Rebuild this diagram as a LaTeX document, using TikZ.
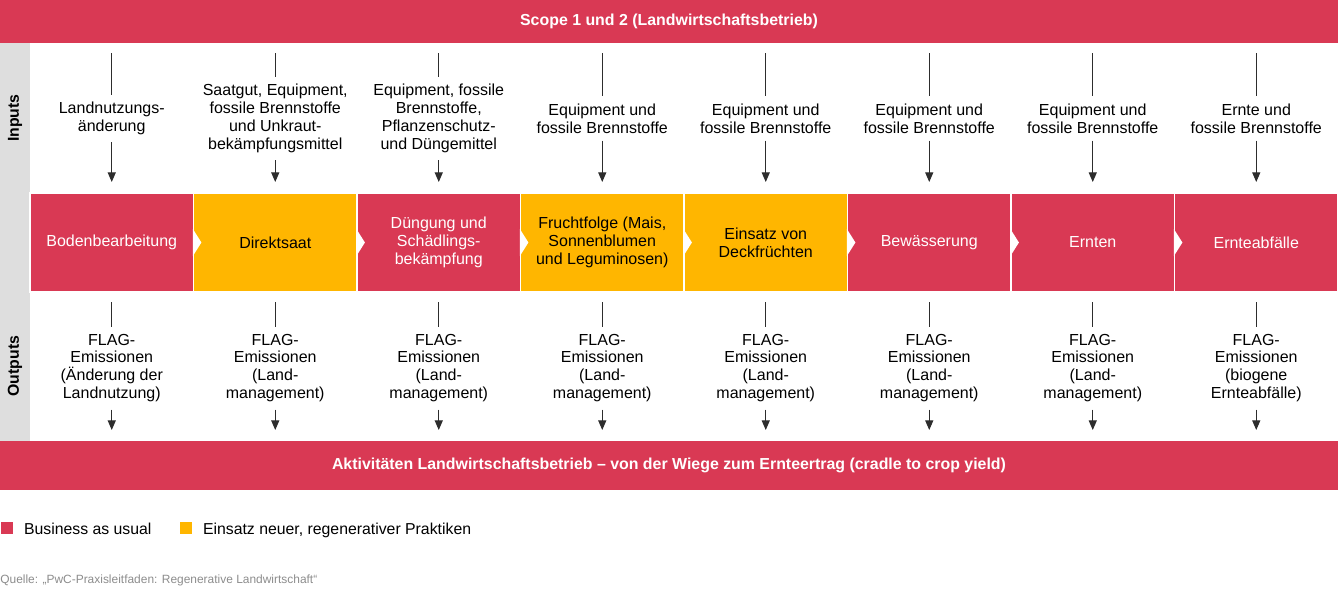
\documentclass[tikz,border=0pt]{standalone}
\usepackage{fontspec}
\setmainfont{Liberation Sans}
\usetikzlibrary{arrows.meta, positioning}
\definecolor{cred}{HTML}{D93954}
\definecolor{corange}{HTML}{FFB600}
\definecolor{cside}{HTML}{DEDEDE}
\definecolor{cline}{HTML}{2D2D2D}
\definecolor{cnote}{HTML}{8C8C8C}
\tikzset{
  every picture/.style={x=0.02cm, y=-0.02cm, font=\fontsize{9.1}{10.2}\selectfont},
  bar/.style={fill=cred, text=white, font=\fontsize{9.05}{10.2}\selectfont\bfseries, minimum width=26.76cm, inner sep=0pt},
  stage/.style={fill=#1, draw=white, line width=0.7pt, minimum width=3.27cm, minimum height=1.98cm, align=center, inner sep=2pt},
  stage/.default=cred,
  flow/.style={align=center, inner xsep=0pt, inner ysep=4pt},
  feed/.style={draw=cline, line width=0.6pt},
  arrow/.style={feed, -{Triangle[length=5.5pt, width=4.6pt]}},
  side/.style={font=\fontsize{9}{10.2}\selectfont\bfseries, rotate=90},
  key/.style={minimum size=0.24cm, inner sep=0pt},
  legend/.style={anchor=west, inner sep=0pt, text height=1.6ex, text depth=0.3ex, font=\fontsize{9}{10.2}\selectfont},
}
\begin{document}
\begin{tikzpicture}
  \useasboundingbox (0,0) rectangle (1338,599);
  \node[bar, minimum height=0.86cm] (scope) at (669,21.5) {Scope 1 und 2 (Landwirtschaftsbetrieb)};
  \fill[cside] (0,43) rectangle (30,441);
  \node[side] (inputs) at (15,118) {Inputs};
  \node[side] (outputs) at (15,366) {Outputs};
  \foreach \i/\c/\k/\t in {1/cred/white/{Bodenbearbeitung},
      2/corange/black/{Direktsaat},
      3/cred/white/{Düngung und\\Schädlings-\\bekämpfung},
      4/corange/black/{Fruchtfolge (Mais,\\Sonnenblumen\\und Leguminosen)},
      5/corange/black/{Einsatz von\\Deckfrüchten},
      6/cred/white/{Bewässerung},
      7/cred/white/{Ernten},
      8/cred/white/{Ernteabfälle}} {
    \node[stage=\c, text=\k] (b\i) at ({111.75+163.5*(\i-1)},242.5) {\t};
  }
  \foreach \i in {2,...,8}
    \fill[white] (b\i.west) ++(0,-13.5) -- ++(8.5,13.5) -- ++(-8.5,13.5) -- cycle;
  \foreach \i/\t in {1/{Landnutzungs-\\änderung},
      2/{Saatgut, Equipment,\\fossile Brennstoffe\\und Unkraut-\\bekämpfungsmittel},
      3/{Equipment, fossile\\Brennstoffe,\\Pflanzenschutz-\\und Düngemittel},
      4/{Equipment und\\fossile Brennstoffe},
      5/{Equipment und\\fossile Brennstoffe},
      6/{Equipment und\\fossile Brennstoffe},
      7/{Equipment und\\fossile Brennstoffe},
      8/{Ernte und\\fossile Brennstoffe}} {
    \node[flow] (in\i) at ({111.75+163.5*(\i-1)},118.5) {\t};
    \coordinate (intop\i) at ({111.75+163.5*(\i-1)},53);
    \coordinate (inend\i) at ({111.75+163.5*(\i-1)},182);
    \draw[feed] (intop\i) -- (in\i);
    \draw[arrow] (in\i) -- (inend\i);
  }
  \foreach \i/\t in {1/{FLAG-\\Emissionen\\(Änderung der\\Landnutzung)},
      2/{FLAG-\\Emissionen\\(Land-\\management)},
      3/{FLAG-\\Emissionen\\(Land-\\management)},
      4/{FLAG-\\Emissionen\\(Land-\\management)},
      5/{FLAG-\\Emissionen\\(Land-\\management)},
      6/{FLAG-\\Emissionen\\(Land-\\management)},
      7/{FLAG-\\Emissionen\\(Land-\\management)},
      8/{FLAG-\\Emissionen\\(biogene\\Ernteabfälle)}} {
    \node[flow] (out\i) at ({111.75+163.5*(\i-1)},368) {\t};
    \coordinate (outtop\i) at ({111.75+163.5*(\i-1)},302);
    \coordinate (outend\i) at ({111.75+163.5*(\i-1)},430);
    \draw[feed] (outtop\i) -- (out\i);
    \draw[arrow] (out\i) -- (outend\i);
  }
  \node[bar, minimum height=0.98cm] (yield) at (669,465.5) {Aktivitäten Landwirtschaftsbetrieb – von der Wiege zum Ernteertrag (cradle to crop yield)};
  \node[key, fill=cred, anchor=north west] (keybau) at (1,522) {};
  \node[legend, right=0.2cm of keybau] (txtbau) {Business as usual};
  \node[key, fill=corange, anchor=north west] (keyreg) at (180,522) {};
  \node[legend, right=0.2cm of keyreg] (txtreg) {Einsatz neuer, regenerativer Praktiken};
  \node[anchor=west, inner sep=0pt, text=cnote, font=\fontsize{6.8}{8}\selectfont] (source) at (0,580.5) {Quelle: „PwC-Praxisleitfaden: Regenerative Landwirtschaft“};
\end{tikzpicture}
\end{document}
